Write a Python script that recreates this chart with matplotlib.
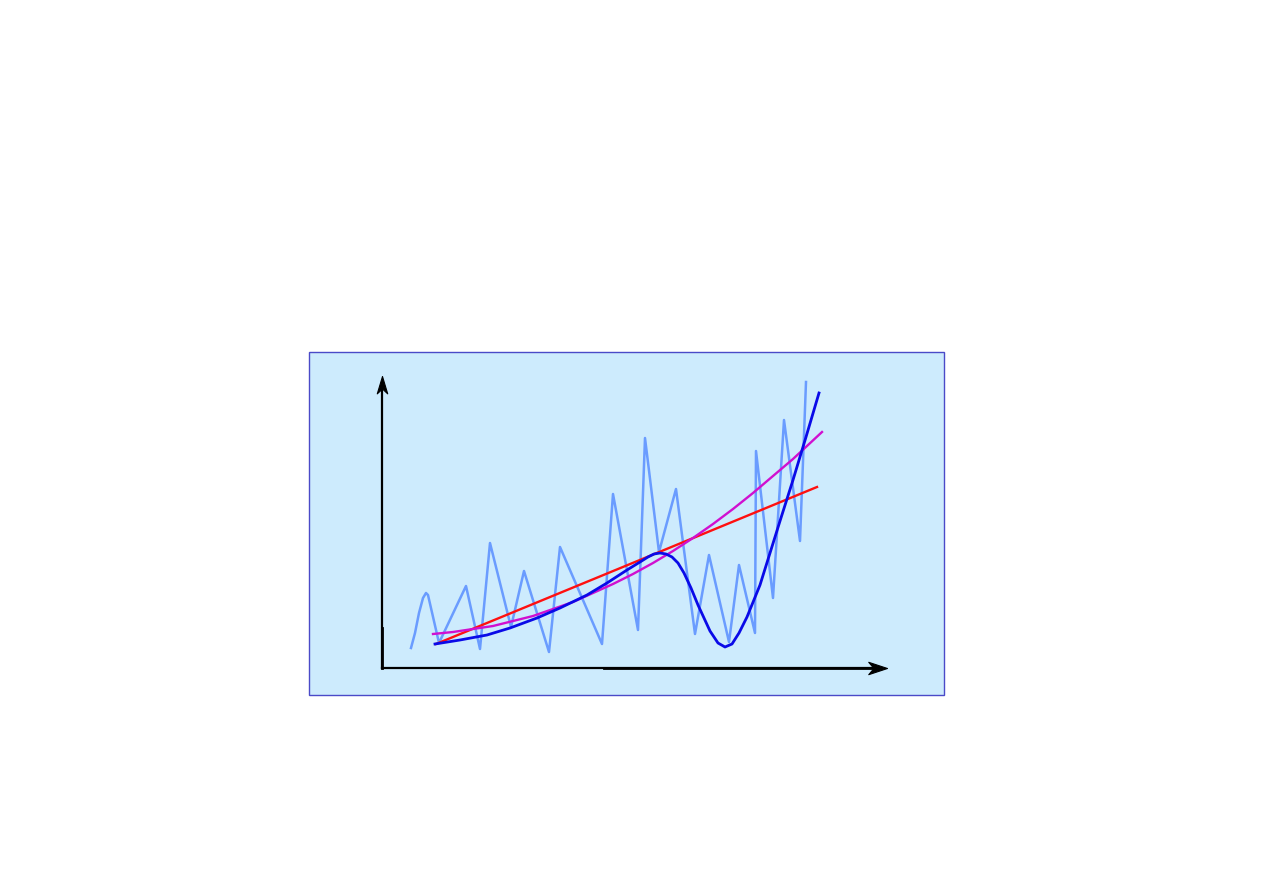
import matplotlib.pyplot as plt
from matplotlib.patches import Rectangle
from matplotlib.path import Path

# data measured from the axis origin (x to the right, y upward)
noisy_x = [29, 33, 37, 41, 44, 46, 57, 84, 98, 108, 129, 142, 167, 178, 220, 231,
           256, 263, 277, 294, 313, 327, 347, 357, 373, 374, 391, 402, 418, 424]
noisy_y = [20, 35, 55, 70, 75, 73, 25, 82, 19, 125, 41, 97, 16, 121, 24, 174,
           38, 230, 116, 179, 34, 113, 26, 103, 35, 217, 70, 248, 127, 286]

linear_x = [54, 435]
linear_y = [24, 181]

quad_x = [51, 71, 91, 111, 131, 151, 171, 191, 211, 231, 251, 271, 291, 311,
          331, 351, 371, 391, 411, 440]
quad_y = [34, 36, 39, 42, 47, 52, 59, 66, 75, 84, 94, 105, 117, 130,
          144, 159, 175, 192, 209, 236]

poly_x = [53, 78, 105, 128, 155, 178, 205, 225, 245, 258, 266, 272, 278, 284, 290,
          296, 302, 309, 316, 328, 336, 343, 350, 357, 365, 378, 388, 398, 411, 424, 437]
poly_y = [24, 28, 33, 40, 50, 60, 73, 85, 98, 106, 111, 114, 115, 114, 111,
          105, 95, 80, 63, 37, 25, 21, 24, 35, 51, 83, 115, 147, 188, 231, 275]

fig = plt.figure(figsize=(12.63, 8.93), dpi=100)
ax = fig.add_axes([0, 0, 1, 1])
ax.set_xlim(-382, 881)
ax.set_ylim(-225, 668)
ax.axis('off')

# panel background
ax.add_patch(Rectangle((-73, -27), 635, 343, facecolor='#cdebfd',
                       edgecolor='#4a4ac8', linewidth=1.0, zorder=0))

# axes with stealth arrow heads
head_right = Path([(0, 0), (-1, 0.33), (-0.72, 0), (-1, -0.33), (0, 0)],
                  [Path.MOVETO, Path.LINETO, Path.LINETO, Path.LINETO, Path.CLOSEPOLY])
head_up = Path([(0, 0), (-0.3, -1), (0, -0.72), (0.3, -1), (0, 0)],
               [Path.MOVETO, Path.LINETO, Path.LINETO, Path.LINETO, Path.CLOSEPOLY])
ax.plot([0, 498], [0, 0], color='black', lw=1.6, zorder=2)
ax.plot([0, 0], [0, 285], color='black', lw=1.6, zorder=2)
ax.plot([222, 490], [0, 0], color='black', lw=2.0, zorder=2)
ax.plot([0, 0], [0, 40], color='black', lw=2.0, zorder=2)
ax.plot([505], [0], marker=head_right, ms=27, color='black', mew=0.8, zorder=2)
ax.plot([0], [292], marker=head_up, ms=25, color='black', mew=0.8, zorder=2)

ax.plot(noisy_x, noisy_y, color='#6a9cff', lw=1.8, zorder=3)
ax.plot(linear_x, linear_y, color='#ff1010', lw=1.7, zorder=4)
ax.plot(quad_x, quad_y, color='#d010d0', lw=1.7, zorder=4)
ax.plot(poly_x, poly_y, color='#0a0ae8', lw=2.0, zorder=5)

fig.savefig('out.png', dpi=100, facecolor='white')
